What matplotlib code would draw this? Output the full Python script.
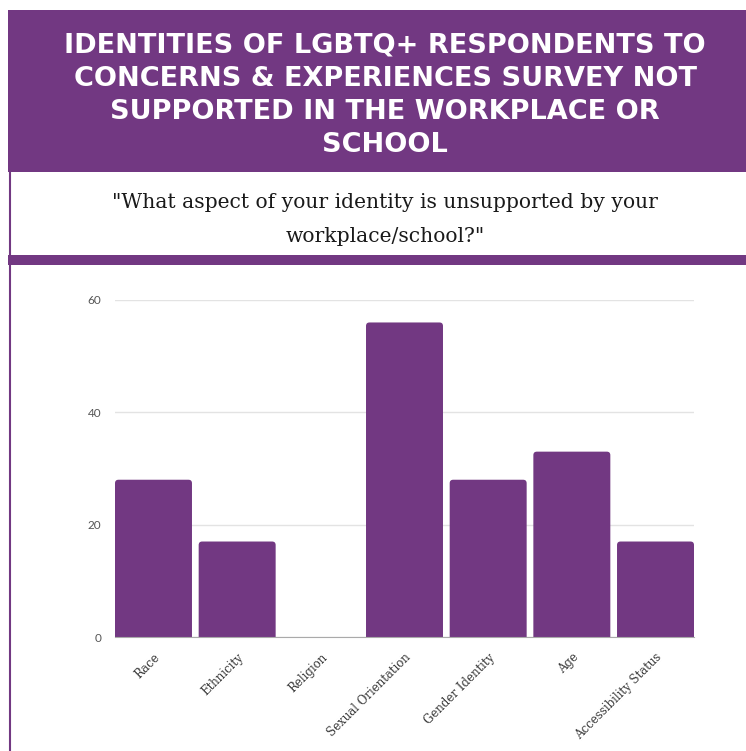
import matplotlib
matplotlib.use("Agg")
import matplotlib.pyplot as plt
from matplotlib.patches import Rectangle, FancyBboxPatch

# Survey counts per identity aspect
categories = ["Race", "Ethnicity", "Religion", "Sexual Orientation",
              "Gender Identity", "Age", "Accessibility Status"]
counts = [28, 17, 0, 56, 28, 33, 17]
y_ticks = [0, 20, 40, 60]

title_lines = ["IDENTITIES OF LGBTQ+ RESPONDENTS TO",
               "CONCERNS & EXPERIENCES SURVEY NOT",
               "SUPPORTED IN THE WORKPLACE OR",
               "SCHOOL"]
subtitle_lines = ['"What aspect of your identity is unsupported by your',
                  'workplace/school?"']

PURPLE = "#723882"
W, H = 746, 751

fig = plt.figure(figsize=(W / 100, H / 100), dpi=100)
fig.patch.set_facecolor("white")


def fy(py):
    # pixel row from the top -> figure fraction
    return 1 - py / H


def fx(px):
    return px / W


def band(x0, y0, x1, y1, **kw):
    fig.patches.append(Rectangle((fx(x0), fy(y1)), fx(x1) - fx(x0), fy(y0) - fy(y1),
                                 transform=fig.transFigure, **kw))


# header block, subtitle box and divider strip
band(8, 10, W, 172, facecolor=PURPLE, edgecolor="none", zorder=0)
band(8, 255, W, 265, facecolor=PURPLE, edgecolor="none", zorder=0)
fig.add_artist(plt.Line2D([fx(9.5), fx(9.5)], [fy(172), 0], color=PURPLE,
                          lw=1.5, transform=fig.transFigure))

for i, line in enumerate(title_lines):
    fig.text(fx(385), fy(45 + i * 33.5), line, color="white", fontsize=19.5,
             fontweight="bold", family="DejaVu Sans", ha="center", va="center")

for i, line in enumerate(subtitle_lines):
    fig.text(fx(385), fy(202 + i * 34), line, color="#1a1a1a", fontsize=14.6,
             family="DejaVu Serif", ha="center", va="center")

# bar chart
ax = fig.add_axes([fx(115), fy(637), fx(694) - fx(115), fy(300) - fy(637)])
x = range(len(categories))
bars = ax.bar(x, counts, width=0.92, color=PURPLE, zorder=2)
ax.set_xlim(-0.46, len(categories) - 0.54)
ax.set_ylim(0, 60)

# swap the plain bars for ones with slightly rounded tops
x_px = ax.get_position().width * W / (ax.get_xlim()[1] - ax.get_xlim()[0])
y_px = ax.get_position().height * H / 60
aspect = x_px / y_px
r = 3.5 / x_px
for b in bars:
    b.set_visible(False)
    if b.get_height() <= 0:
        continue
    ax.add_patch(FancyBboxPatch((b.get_x(), -2 * r * aspect), b.get_width(),
                                b.get_height() + 2 * r * aspect,
                                boxstyle=f"round,pad=0,rounding_size={r}",
                                mutation_aspect=aspect, facecolor=PURPLE,
                                edgecolor="none", zorder=2))

ax.set_yticks(y_ticks)
ax.set_yticklabels([str(v) for v in y_ticks], fontsize=8.5, color="#555555",
                   family="Lato")
ax.grid(axis="y", color="#e3e3e3", lw=1, zorder=0)
ax.set_xticks(list(x))
ax.set_xticklabels(categories, rotation=45, ha="right", rotation_mode="anchor",
                   fontsize=8.5, color="#3a3a3a", family="DejaVu Serif")
ax.tick_params(axis="x", length=0, pad=10)
ax.tick_params(axis="y", length=0, pad=10)
for side in ("top", "right", "left"):
    ax.spines[side].set_visible(False)
ax.spines["bottom"].set_color("#aaaaaa")
ax.spines["bottom"].set_zorder(3)

fig.savefig("out.png", dpi=100, facecolor="white")
